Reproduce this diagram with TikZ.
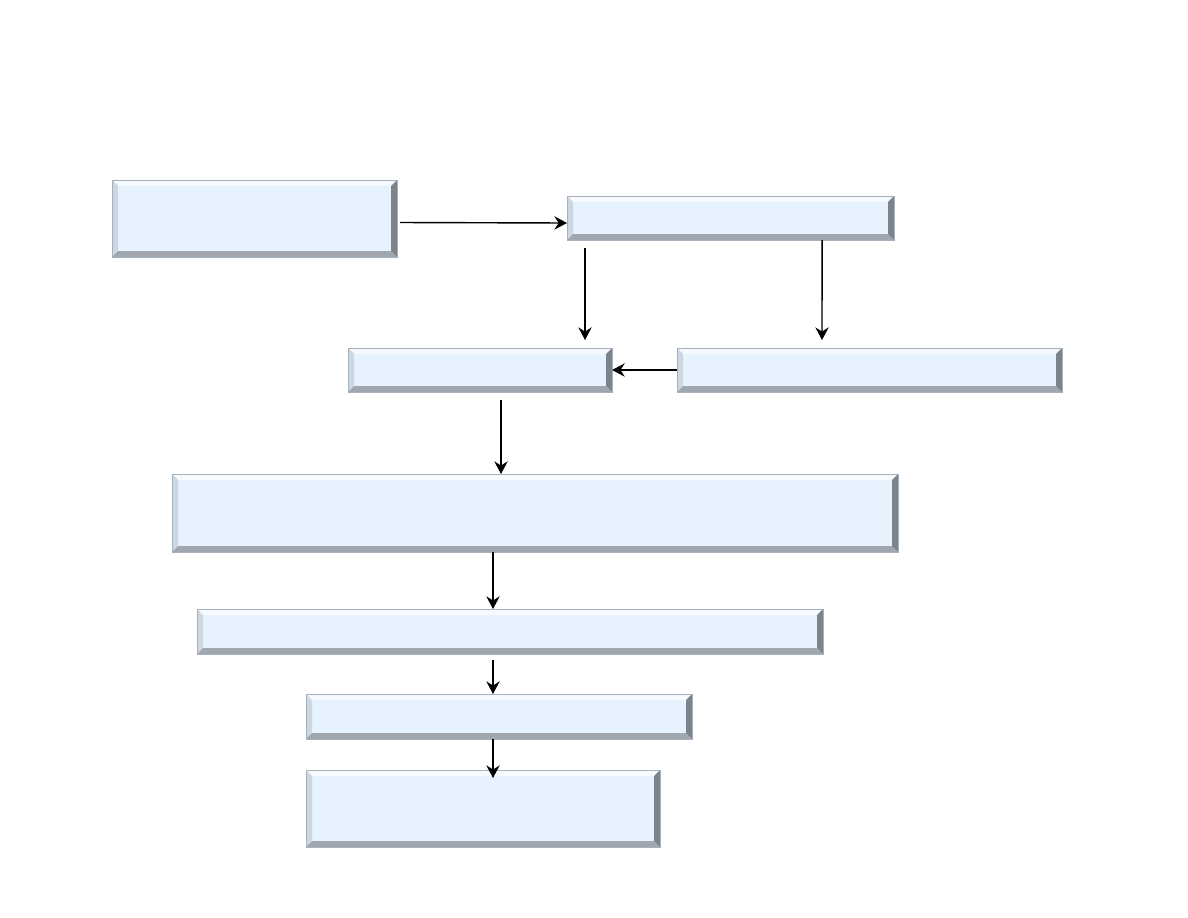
\documentclass[tikz,border=0pt]{standalone}
\usepackage{tikz}
\usetikzlibrary{calc,arrows.meta}

\definecolor{boxfill}{HTML}{E6F2FD}
\definecolor{bevtop}{HTML}{F6FAFE}
\definecolor{bevleft}{HTML}{CBD7E3}
\definecolor{bevbot}{HTML}{A0A7AF}
\definecolor{bevright}{HTML}{7C838B}
\definecolor{boxline}{HTML}{A7B1BC}

\tikzset{
  bevelbox/.style={draw=boxline, line width=0.4pt, fill=boxfill,
    anchor=north west, inner sep=0pt, outer sep=0pt,
    path picture={
      \coordinate (nw) at (path picture bounding box.north west);
      \coordinate (ne) at (path picture bounding box.north east);
      \coordinate (sw) at (path picture bounding box.south west);
      \coordinate (se) at (path picture bounding box.south east);
      \fill[bevtop] (nw) -- (ne) -- ($(ne)+(-0.15cm,-0.15cm)$)
        -- ($(nw)+(0.15cm,-0.15cm)$) -- cycle;
      \fill[bevleft] (nw) -- ($(nw)+(0.15cm,-0.15cm)$)
        -- ($(sw)+(0.15cm,0.15cm)$) -- (sw) -- cycle;
      \fill[bevbot] (sw) -- (se) -- ($(se)+(-0.15cm,0.15cm)$)
        -- ($(sw)+(0.15cm,0.15cm)$) -- cycle;
      \fill[bevright] (ne) -- (se) -- ($(se)+(-0.15cm,0.15cm)$)
        -- ($(ne)+(-0.15cm,-0.15cm)$) -- cycle;
    }},
  arr/.style={-{Stealth[length=9pt,width=9.5pt,inset=3pt]}, line width=1pt, black}
}

\begin{document}
\begin{tikzpicture}[x=0.025cm, y=-0.025cm]
\useasboundingbox (0,0) rectangle (1188,918);

\node[bevelbox, minimum width=7.125cm, minimum height=1.925cm] (start) at (112,180) {};
\node[bevelbox, minimum width=8.175cm, minimum height=1.1cm] (split) at (567,196) {};
\node[bevelbox, minimum width=6.6cm, minimum height=1.1cm] (left) at (348,348) {};
\node[bevelbox, minimum width=9.625cm, minimum height=1.1cm] (right) at (677,348) {};
\node[bevelbox, minimum width=18.15cm, minimum height=1.95cm] (merge) at (172,474) {};
\node[bevelbox, minimum width=15.65cm, minimum height=1.125cm] (stage1) at (197,609) {};
\node[bevelbox, minimum width=9.65cm, minimum height=1.125cm] (stage2) at (306,694) {};
\node[bevelbox, minimum width=8.85cm, minimum height=1.925cm] (result) at (306,770) {};

\draw[arr] ([shift={(3,4)}]start.east) -- ([shift={(0,5)}]split.west);
\draw[arr] ([shift={(18,8)}]split.south west) -- ([shift={(237,-8)}]left.north west);
\draw[arr] ([shift={(-72,0)}]split.south east) -- ([shift={(145,-8)}]right.north west);
\draw[arr] (right.west) -- (left.east);
\draw[arr] ([shift={(153,8)}]left.south west) -- ([shift={(329,0)}]merge.north west);
\draw[arr] ([shift={(321,0)}]merge.south west) -- ([shift={(296,0)}]stage1.north west);
\draw[arr] ([shift={(296,6)}]stage1.south west) -- ([shift={(187,0)}]stage2.north west);
\draw[arr] ([shift={(187,0)}]stage2.south west) -- ([shift={(187,8)}]result.north west);
\end{tikzpicture}
\end{document}
